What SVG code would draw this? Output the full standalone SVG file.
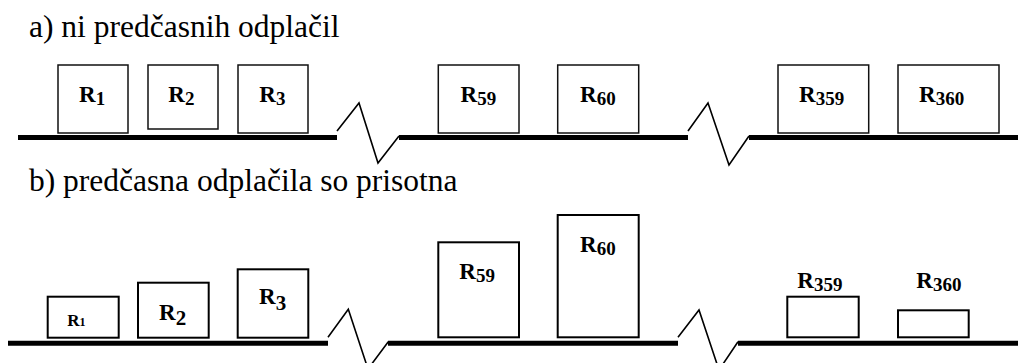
<svg xmlns="http://www.w3.org/2000/svg" width="1018" height="363" viewBox="0 0 1018 363">
<style>
text{font-family:'Liberation Serif','DejaVu Serif','Times New Roman',Times,serif;fill:#000}
.hdr{font-size:31.5px}
.lbl{font-weight:bold;font-size:23px}
.sub{font-size:19px}
.lbls{font-weight:bold;font-size:17px}
.subs{font-size:12px}
.subb{font-size:21px}
.bt{fill:#fff;stroke:#111;stroke-width:1.5}
.bb{fill:#fff;stroke:#000;stroke-width:2}
.axis{stroke:#000;stroke-width:5;fill:none}
.zz{stroke:#000;stroke-width:1.6;fill:none;stroke-linejoin:miter}
</style>
<rect width="1018" height="363" fill="#fff"/>
<text class="hdr" x="29" y="37" font-family="Liberation Serif">a) ni predčasnih odplačil</text>
<text class="hdr" x="29" y="191" font-family="Liberation Serif">b) predčasna odplačila so prisotna</text>

<g id="connectors">
  <line class="axis" x1="18" y1="137.5" x2="337" y2="137.5"/>
  <line class="axis" x1="399" y1="137.5" x2="688" y2="137.5"/>
  <line class="axis" x1="749" y1="137.5" x2="1018" y2="137.5"/>
  <polyline class="zz" points="337,131 359,103 378,163 399,136"/>
  <polyline class="zz" points="688,131 708,103 729,165 749,136"/>
  <line class="axis" x1="8" y1="343.3" x2="328" y2="343.3"/>
  <line class="axis" x1="388" y1="343.3" x2="678" y2="343.3"/>
  <line class="axis" x1="738" y1="343.3" x2="1018" y2="343.3"/>
  <polyline class="zz" points="328,337.3 348.3,309.3 368,369 388.3,341.7"/>
  <polyline class="zz" points="678,337.3 699,310 719,370 738,341.7"/>
</g>

<g id="a-R1"><rect class="bt" x="58" y="65" width="70" height="68"/><text class="lbl" x="79" y="102">R<tspan class="sub" dy="3">1</tspan></text></g>
<g id="a-R2"><rect class="bt" x="148" y="65" width="70" height="64"/><text class="lbl" x="168.3" y="102">R<tspan class="sub" dy="3">2</tspan></text></g>
<g id="a-R3"><rect class="bt" x="238" y="65" width="70" height="68"/><text class="lbl" x="259.3" y="102">R<tspan class="sub" dy="3">3</tspan></text></g>
<g id="a-R59"><rect class="bt" x="438.3" y="65" width="80.7" height="68"/><text class="lbl" x="460.5" y="102">R<tspan class="sub" dy="3">59</tspan></text></g>
<g id="a-R60"><rect class="bt" x="557.7" y="65" width="81" height="68"/><text class="lbl" x="580" y="102">R<tspan class="sub" dy="3">60</tspan></text></g>
<g id="a-R359"><rect class="bt" x="778" y="65" width="90.7" height="68"/><text class="lbl" x="799" y="102">R<tspan class="sub" dy="3">359</tspan></text></g>
<g id="a-R360"><rect class="bt" x="898" y="65" width="101" height="68"/><text class="lbl" x="919" y="102">R<tspan class="sub" dy="3">360</tspan></text></g>

<g id="b-R1"><rect class="bb" x="47.7" y="296.7" width="71" height="41"/><text class="lbls" x="67.3" y="325.7">R<tspan class="subs" dy="0">1</tspan></text></g>
<g id="b-R2"><rect class="bb" x="138" y="282.7" width="70.7" height="55"/><text class="lbl" x="159" y="320">R<tspan class="subb" dy="5">2</tspan></text></g>
<g id="b-R3"><rect class="bb" x="237.7" y="269.3" width="70.6" height="68.4"/><text class="lbl" x="259" y="304">R<tspan class="subb" dy="6">3</tspan></text></g>
<g id="b-R59"><rect class="bb" x="438.3" y="242.3" width="80.7" height="95"/><text class="lbl" x="459.3" y="279">R<tspan class="sub" dy="3">59</tspan></text></g>
<g id="b-R60"><rect class="bb" x="557.7" y="215" width="81" height="122.3"/><text class="lbl" x="580" y="251.7">R<tspan class="sub" dy="3">60</tspan></text></g>
<g id="b-R359"><rect class="bb" x="787.3" y="296.7" width="71.4" height="40.6"/><text class="lbl" x="797.3" y="288">R<tspan class="sub" dy="3">359</tspan></text></g>
<g id="b-R360"><rect class="bb" x="898" y="310.3" width="70.7" height="27"/><text class="lbl" x="916.3" y="288">R<tspan class="sub" dy="3">360</tspan></text></g>
</svg>
